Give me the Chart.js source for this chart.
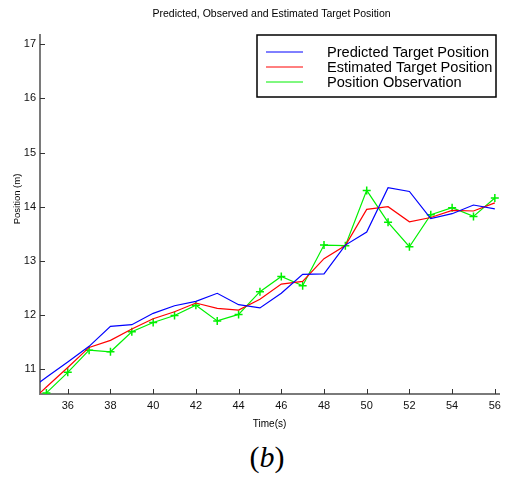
<!DOCTYPE html>
<html>
<head>
<meta charset="utf-8">
<title>Target Position</title>
<script src="https://cdn.jsdelivr.net/npm/chart.js@4/dist/chart.umd.min.js"></script>
<style>
  body { margin: 0; background: #fff; }
  #wrap { position: relative; width: 506px; height: 430px; }
  #caption {
    position: absolute; left: 0; top: 440px; width: 534px;
    text-align: center; font-family: "Liberation Serif", "DejaVu Serif", serif;
    font-size: 30px; color: #000;
  }
</style>
</head>
<body>
<div id="wrap"><canvas id="posChart" width="506" height="430"></canvas></div>
<div id="caption">(<i>b</i>)</div>
<script>
// time steps (s)
const times = [34, 35, 36, 37, 38, 39, 40, 41, 42, 43, 44, 45, 46, 47, 48, 49, 50, 51, 52, 53, 54, 55, 56];

// position (m) per time step
const predicted = [10.56, 10.85, 11.13, 11.42, 11.79, 11.82, 12.03, 12.17, 12.25, 12.40, 12.19, 12.13,
                   12.40, 12.75, 12.76, 13.29, 13.53, 14.35, 14.28, 13.78, 13.87, 14.03, 13.96];
const estimated = [10.30, 10.67, 11.03, 11.40, 11.53, 11.74, 11.93, 12.06, 12.22, 12.12, 12.09, 12.29,
                   12.57, 12.62, 13.04, 13.28, 13.95, 14.00, 13.72, 13.80, 13.93, 13.92, 14.07];
const observed  = [null, 10.56, 10.94, 11.35, 11.32, 11.69, 11.86, 11.99, 12.18, 11.89, 12.01, 12.43,
                   12.71, 12.54, 13.29, 13.28, 14.30, 13.71, 13.26, 13.85, 13.98, 13.82, 14.16];

const xTicks = [36, 38, 40, 42, 44, 46, 48, 50, 52, 54, 56];
const yTicks = [11, 12, 13, 14, 15, 16, 17];

function toPoints(vals) {
  return times.map((t, i) => ({ x: t, y: vals[i] }));
}

const FONT = '"Liberation Sans", Arial, sans-serif';

// titles, inward tick marks and the boxed legend, matlab style
const matlabDecor = {
  id: 'matlabDecor',
  afterDraw(chart) {
    const ctx = chart.ctx;
    const area = chart.chartArea;
    const xs = chart.scales.x, ys = chart.scales.y;
    ctx.save();

    // tick marks pointing into the plot
    ctx.strokeStyle = '#333';
    ctx.lineWidth = 1;
    ctx.beginPath();
    xs.ticks.forEach(t => {
      const px = Math.round(xs.getPixelForValue(t.value)) + 0.5;
      ctx.moveTo(px, area.bottom);
      ctx.lineTo(px, area.bottom - 5);
    });
    ys.ticks.forEach(t => {
      const py = Math.round(ys.getPixelForValue(t.value)) + 0.5;
      ctx.moveTo(area.left, py);
      ctx.lineTo(area.left + 5, py);
    });
    ctx.stroke();

    // main title
    ctx.fillStyle = '#000';
    ctx.font = '10.5px ' + FONT;
    ctx.textAlign = 'center';
    ctx.textBaseline = 'middle';
    ctx.fillText('Predicted, Observed and Estimated Target Position', (area.left + area.right) / 2 + 2, 14);

    // y axis title
    ctx.save();
    ctx.font = '9.5px ' + FONT;
    ctx.translate(17, 199);
    ctx.rotate(-Math.PI / 2);
    ctx.fillText('Position (m)', 0, 0);
    ctx.restore();

    // legend box
    const bx = 257, by = 35, bw = 239, bh = 62;
    ctx.fillStyle = '#fff';
    ctx.fillRect(bx, by, bw, bh);
    ctx.strokeStyle = '#000';
    ctx.lineWidth = 1.5;
    ctx.strokeRect(bx, by, bw, bh);
    ctx.font = '14.6px ' + FONT;
    ctx.textAlign = 'left';
    chart.data.datasets.forEach((ds, i) => {
      const y = 51.5 + i * 15;
      ctx.strokeStyle = ds.borderColor;
      ctx.lineWidth = 1;
      ctx.beginPath();
      ctx.moveTo(266, y + 0.5);
      ctx.lineTo(303, y + 0.5);
      ctx.stroke();
      ctx.fillStyle = '#000';
      ctx.fillText(ds.label, 327, y + 1);
    });
    ctx.restore();
  }
};

new Chart(document.getElementById('posChart'), {
  type: 'line',
  data: {
    datasets: [
      {
        label: 'Predicted Target Position',
        data: toPoints(predicted),
        borderColor: '#0000ff',
        borderWidth: 1.2,
        pointRadius: 0,
        tension: 0
      },
      {
        label: 'Estimated Target Position',
        data: toPoints(estimated),
        borderColor: '#ff0000',
        borderWidth: 1.2,
        pointRadius: 0,
        tension: 0
      },
      {
        label: 'Position Observation',
        data: toPoints(observed),
        borderColor: '#00f000',
        borderWidth: 1.2,
        pointStyle: 'cross',
        pointRadius: 4,
        pointBorderWidth: 1.5,
        pointBorderColor: '#00f000',
        tension: 0
      }
    ]
  },
  options: {
    responsive: false,
    animation: false,
    layout: { padding: { top: 35, left: 0, right: 0, bottom: 0 } },
    plugins: {
      legend: { display: false },
      title: { display: false },
      tooltip: { enabled: false }
    },
    scales: {
      x: {
        type: 'linear',
        min: 34.7,
        max: 56.2,
        afterBuildTicks: s => { s.ticks = xTicks.map(v => ({ value: v })); },
        afterFit: s => { s.height = 36; },
        grid: { display: false, drawTicks: false },
        border: { display: true, color: '#7a7a7a', width: 2 },
        ticks: { padding: 5, color: '#111', font: { family: FONT, size: 11 }, maxRotation: 0, autoSkip: false },
        title: { display: true, text: 'Time(s)', color: '#000', font: { family: FONT, size: 10 }, padding: { top: 0, bottom: 0 } }
      },
      y: {
        type: 'linear',
        min: 10.54,
        max: 17.17,
        afterBuildTicks: s => { s.ticks = yTicks.map(v => ({ value: v })); },
        afterFit: s => { s.width = 40; },
        grid: { display: false, drawTicks: false },
        border: { display: true, color: '#7a7a7a', width: 2 },
        ticks: { padding: 4, color: '#111', font: { family: FONT, size: 11 }, autoSkip: false }
      }
    }
  },
  plugins: [matlabDecor]
});
</script>
</body>
</html>
